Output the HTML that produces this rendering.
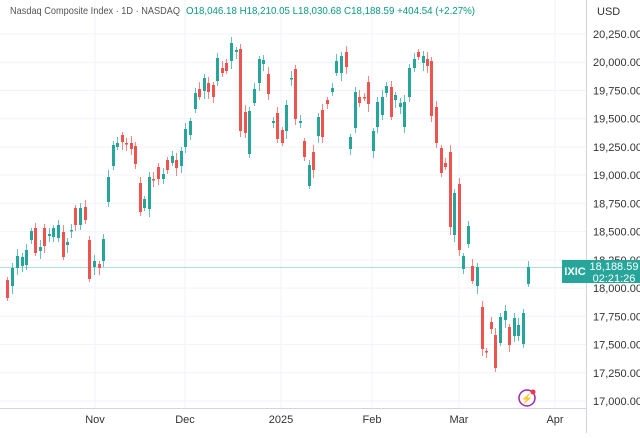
<!DOCTYPE html>
<html><head><meta charset="utf-8"><style>
body{margin:0;background:#fff;font-family:"Liberation Sans",sans-serif;}
svg text{font-family:"Liberation Sans",sans-serif;}
</style></head><body>
<svg id="s" width="640" height="433" xmlns="http://www.w3.org/2000/svg">
<rect width="640" height="433" fill="#fff"/>
<g id="grid" stroke="#f0f3fa" stroke-width="1"></g>
<line x1="586.5" y1="0" x2="586.5" y2="433" stroke="#d1d4dc"/>
<line x1="0" y1="408.5" x2="586" y2="408.5" stroke="#d1d4dc"/>
<line x1="0" y1="267.5" x2="586" y2="267.5" stroke="#26a69a" stroke-opacity="0.35"/>
<g id="c"></g>
<text x="10" y="14" font-size="10.5" fill="#555" textLength="170" lengthAdjust="spacingAndGlyphs">Nasdaq Composite Index · 1D · NASDAQ</text>
<text x="186" y="14" font-size="10.5" fill="#089981" textLength="289" lengthAdjust="spacingAndGlyphs">O18,046.18  H18,210.05  L18,030.68  C18,188.59  +404.54 (+2.27%)</text>
<text x="597" y="15" font-size="11" fill="#333">USD</text>
<g id="ax" font-size="11" fill="#333"></g>
<g font-size="11" fill="#333" text-anchor="middle">
<text x="95" y="423">Nov</text><text x="185" y="423">Dec</text><text x="281" y="423">2025</text>
<text x="372" y="423">Feb</text><text x="459" y="423">Mar</text><text x="555" y="423">Apr</text>
</g>
<rect x="562" y="260" width="26" height="23" fill="#26a69a"/>
<text x="575" y="275" font-size="11" fill="#fff" text-anchor="middle" font-weight="bold">IXIC</text>
<rect x="588" y="260" width="52" height="23" fill="#26a69a"/>
<text x="614" y="270" font-size="11" fill="#fff" text-anchor="middle">18,188.59</text>
<text x="614" y="282" font-size="11" fill="#fff" text-anchor="middle">02:21:26</text>
<circle cx="527" cy="398" r="8" fill="none" stroke="#9c27b0" stroke-width="1.5"/>
<text x="527" y="402" font-size="10" fill="#9c27b0" text-anchor="middle">⚡</text>
<circle cx="533" cy="392" r="2.5" fill="#f23645"/>
</svg>
<script>
var g=document.getElementById('grid'),ax=document.getElementById('ax'),ns='http://www.w3.org/2000/svg';
function el(p,t,a){var e=document.createElementNS(ns,t);for(var k in a)e.setAttribute(k,a[k]);p.appendChild(e);return e;}
var labs=['20,250.00','20,000.00','19,750.00','19,500.00','19,250.00','19,000.00','18,750.00','18,500.00','18,250.00','18,000.00','17,750.00','17,500.00','17,250.00','17,000.00'];
for(var i=0;i<14;i++){var y=34+i*28.23;el(g,'line',{x1:0,x2:586,y1:y,y2:y});var t=el(ax,'text',{x:593,y:y+4});t.textContent=labs[i];}
[95,185,281,372,459,555].forEach(function(x){el(g,'line',{x1:x,x2:x,y1:0,y2:408});});
var d=[[7,'r',280,298],[12,'g',268,286],[17,'g',256,268],[22,'g',257,266],[26,'g',250,265],[31,'g',231,240],[35,'r',228,253],[40,'g',247,251],[44,'r',228,246],[49,'g',234,236],[53,'g',228,237],[58,'g',225,238],[63,'r',232,257],[67,'g',242,245],[71,'g',230,231],[75,'r',208,225],[80,'g',208,225],[85,'r',207,220],[89,'r',240,279],[94,'g',261,267],[99,'r',264,268],[103,'g',239,261],[108,'g',177,202],[113,'g',145,166],[117,'g',143,147],[122,'r',135,142],[126,'r',143,144],[131,'r',143,149],[135,'r',146,164],[140,'r',183,212],[144,'g',199,208],[149,'g',177,209],[153,'r',179,180],[158,'r',167,179],[163,'g',174,179],[167,'r',160,170],[172,'g',156,163],[176,'r',160,168],[181,'g',151,166],[185,'g',129,147],[190,'g',121,135],[195,'g',93,109],[199,'r',89,97],[204,'g',78,91],[208,'r',83,92],[213,'r',85,97],[217,'g',58,81],[222,'r',68,73],[226,'r',63,71],[231,'g',43,61],[236,'g',50,52],[240,'r',49,131],[245,'r',112,133],[249,'g',111,154],[254,'g',89,103],[259,'g',59,83],[263,'g',60,64],[268,'r',74,94],[273,'g',121,123],[277,'r',113,139],[282,'r',130,143],[286,'g',105,131],[291,'g',78,79],[295,'r',69,119],[300,'g',121,123],[304,'r',141,157],[309,'g',165,186],[313,'r',152,170],[318,'g',117,136],[322,'r',110,137],[327,'r',100,104],[332,'g',88,92],[336,'g',61,73],[341,'g',56,73],[346,'r',52,67],[350,'g',137,149],[355,'g',92,128],[359,'r',97,103],[364,'r',97,98],[368,'r',82,104],[373,'g',131,151],[377,'g',102,127],[382,'g',97,115],[386,'g',86,93],[391,'r',87,117],[395,'g',95,100],[400,'g',103,107],[404,'g',102,127],[409,'g',68,97],[414,'g',59,68],[418,'r',52,57],[423,'g',56,63],[427,'r',59,66],[431,'r',61,116],[436,'r',107,143],[441,'r',148,173],[445,'r',163,167],[450,'r',152,227],[454,'g',193,235],[459,'r',184,250],[463,'g',256,269],[468,'g',226,244],[472,'r',266,281],[477,'g',267,286],[482,'r',307,349],[486,'r',351,352],[491,'r',322,329],[495,'r',335,368],[500,'g',317,343],[505,'g',311,320],[509,'r',327,345],[514,'g',318,336],[518,'g',325,336],[523,'g',313,344],[528,'g',267,284]];
var c=document.getElementById('c');
d.forEach(function(k,i){var col=k[1]=='g'?'#26a69a':'#ef5350';var w1=3+((i*7)%5),w2=3+((i*11)%6);
el(c,'line',{x1:k[0]+0.5,x2:k[0]+0.5,y1:k[2]-w1,y2:k[3]+w2,stroke:col,'stroke-width':1,'stroke-opacity':0.7});
el(c,'rect',{x:k[0]-1,y:k[2],width:3,height:Math.max(1.5,k[3]-k[2]),fill:col});});
</script>
</body></html>
